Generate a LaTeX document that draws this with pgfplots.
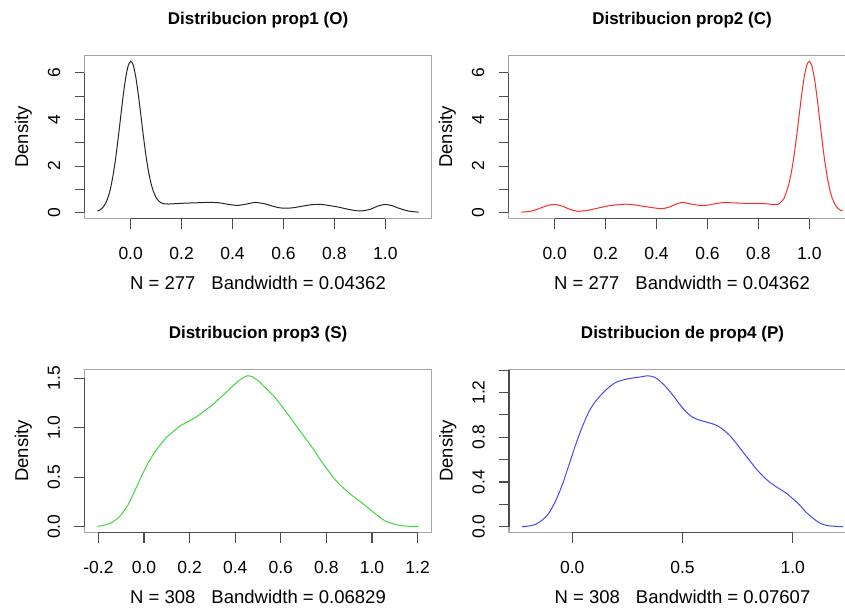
\documentclass[border=0pt]{standalone}
\usepackage{pgfplots}
\pgfplotsset{compat=1.18}
\usepackage{fontspec}
\setmainfont{Liberation Sans}
\newcommand\ticklab{\fontsize{17.5}{20}\selectfont}
\newcommand\labfont{\fontsize{18.5}{21}\selectfont}
\newcommand\titlefont{\bfseries\fontsize{17}{20}\selectfont}
\definecolor{rred}{RGB}{250,45,45}
\definecolor{rgreen}{RGB}{60,215,60}
\definecolor{rblue}{RGB}{70,70,250}
\pgfplotsset{
  rstyle/.style={
    scale only axis, width=347pt, height=163.5pt, anchor=south west,
    axis line style={draw=gray!70, line width=1.1pt},
    tick align=outside, xtick pos=bottom, ytick pos=left,
    major tick length=10pt,
    major tick style={black!70, line width=1.1pt},
    minor tick num=0, clip=false,
    xticklabel style={font=\ticklab, anchor=base, yshift=-31.3pt},
    yticklabel style={font=\ticklab, xshift=-14.5pt, rotate=90, anchor=base},
    title style={at={(axis description cs:0.5,1.152)}, anchor=base, yshift=0pt, font=\titlefont},
    xlabel style={at={(axis description cs:0.5,-0.4318)}, anchor=base, font=\labfont},
    ylabel style={at={(axis description cs:-0.1628,0.5)}, anchor=base, font=\labfont},
    ylabel={Density},
    every axis plot/.append style={line width=1pt, smooth, tension=0.4},
  }
}
\begin{document}
\begin{tikzpicture}
\useasboundingbox (0,0) rectangle (845pt,612pt);
\clip (0,0) rectangle (845pt,612pt);
% Panel 1
\begin{axis}[rstyle, at={(84.5pt,393.3pt)},
  xmin=-0.1813, xmax=1.1813, ymin=-0.26, ymax=6.76,
  xtick={0,0.2,0.4,0.6,0.8,1.0}, xticklabels={0.0,0.2,0.4,0.6,0.8,1.0},
  ytick={0,1,2,3,4,5,6}, yticklabels={0,,2,,4,,6},
  title={Distribucion prop1 (O)},
  xlabel={N = 277\hspace{16pt}Bandwidth = 0.04362}]
\addplot[black!85] coordinates {
(-0.1308,0.07) (-0.12,0.12) (-0.11,0.21) (-0.10,0.37) (-0.09,0.62) (-0.08,1.00)
(-0.07,1.55) (-0.06,2.25) (-0.05,3.11) (-0.04,4.04) (-0.03,4.97) (-0.02,5.76)
(-0.01,6.30) (0.00,6.50) (0.01,6.34) (0.02,5.83) (0.03,5.07) (0.04,4.18)
(0.05,3.28) (0.06,2.45) (0.07,1.77) (0.08,1.25) (0.09,0.89) (0.10,0.65)
(0.11,0.50) (0.12,0.42) (0.13,0.38) (0.15,0.37) (0.20,0.40) (0.25,0.42)
(0.31,0.44) (0.35,0.42) (0.38,0.36) (0.42,0.31) (0.46,0.38) (0.49,0.44)
(0.53,0.37) (0.56,0.27) (0.59,0.20) (0.63,0.20) (0.67,0.27) (0.71,0.34)
(0.75,0.35) (0.81,0.25) (0.86,0.13) (0.90,0.07) (0.94,0.14) (0.97,0.28)
(1.00,0.35) (1.03,0.29) (1.05,0.20) (1.09,0.07) (1.1308,0.02)};
\draw[black!70, line width=1.1pt] (axis cs:0,-0.26) -- (axis cs:1,-0.26);
\draw[black!70, line width=1.1pt] (axis cs:-0.1813,0) -- (axis cs:-0.1813,6);
\end{axis}
% Panel 2
\begin{axis}[rstyle, at={(508.5pt,393.3pt)},
  xmin=-0.1813, xmax=1.1813, ymin=-0.26, ymax=6.76,
  xtick={0,0.2,0.4,0.6,0.8,1.0}, xticklabels={0.0,0.2,0.4,0.6,0.8,1.0},
  ytick={0,1,2,3,4,5,6}, yticklabels={0,,2,,4,,6},
  title={Distribucion prop2 (C)},
  xlabel={N = 277\hspace{16pt}Bandwidth = 0.04362}]
\addplot[rred] coordinates {
(-0.1308,0.02) (-0.10,0.05) (-0.08,0.10) (-0.05,0.22) (-0.02,0.33) (0.00,0.35)
(0.03,0.28) (0.06,0.14) (0.09,0.06) (0.12,0.08) (0.16,0.17) (0.21,0.29)
(0.27,0.36) (0.30,0.35) (0.34,0.29) (0.38,0.22) (0.42,0.17) (0.45,0.24)
(0.48,0.38) (0.50,0.44) (0.53,0.38) (0.57,0.31) (0.60,0.32) (0.63,0.38)
(0.66,0.43) (0.70,0.42) (0.75,0.40) (0.80,0.40) (0.84,0.37) (0.86,0.34)
(0.87,0.34) (0.88,0.38) (0.89,0.47) (0.90,0.60) (0.91,0.89) (0.92,1.25)
(0.93,1.77) (0.94,2.45) (0.95,3.28) (0.96,4.18) (0.97,5.07) (0.98,5.83)
(0.99,6.34) (1.00,6.50) (1.01,6.30) (1.02,5.76) (1.03,4.97) (1.04,4.04)
(1.05,3.11) (1.06,2.25) (1.07,1.55) (1.08,1.00) (1.09,0.62) (1.10,0.37)
(1.11,0.21) (1.12,0.12) (1.1308,0.07)};
\draw[black!70, line width=1.1pt] (axis cs:0,-0.26) -- (axis cs:1,-0.26);
\draw[black!70, line width=1.1pt] (axis cs:-0.1813,0) -- (axis cs:-0.1813,6);
\end{axis}
% Panel 3
\begin{axis}[rstyle, at={(84.5pt,79.3pt)},
  xmin=-0.261, xmax=1.261, ymin=-0.0612, ymax=1.5912,
  xtick={-0.2,0,0.2,0.4,0.6,0.8,1.0,1.2}, xticklabels={-0.2,0.0,0.2,0.4,0.6,0.8,1.0,1.2},
  ytick={0,0.5,1.0,1.5}, yticklabels={0.0,0.5,1.0,1.5},
  title={Distribucion prop3 (S)},
  xlabel={N = 308\hspace{16pt}Bandwidth = 0.06829}]
\addplot[rgreen] coordinates {
(-0.205,0.003) (-0.18,0.012) (-0.146,0.037) (-0.12,0.075) (-0.10,0.12)
(-0.07,0.22) (-0.043,0.35) (-0.015,0.49) (0.015,0.63) (0.045,0.745)
(0.074,0.835) (0.10,0.905) (0.133,0.97) (0.16,1.02) (0.191,1.06) (0.23,1.11)
(0.265,1.17) (0.30,1.23) (0.338,1.31) (0.375,1.39) (0.411,1.466) (0.435,1.505)
(0.455,1.525) (0.475,1.515) (0.50,1.476) (0.535,1.40) (0.573,1.31) (0.61,1.20)
(0.646,1.09) (0.68,0.98) (0.719,0.86) (0.75,0.76) (0.778,0.66) (0.81,0.56)
(0.836,0.48) (0.87,0.40) (0.91,0.32) (0.95,0.25) (0.983,0.19) (1.02,0.12)
(1.056,0.06) (1.09,0.03) (1.13,0.01) (1.17,0.003) (1.205,0.001)};
\draw[black!70, line width=1.1pt] (axis cs:-0.2,-0.0612) -- (axis cs:1.2,-0.0612);
\draw[black!70, line width=1.1pt] (axis cs:-0.261,0) -- (axis cs:-0.261,1.5);
\end{axis}
% Panel 4
\begin{axis}[rstyle, at={(509pt,79.3pt)},
  xmin=-0.2865, xmax=1.2865, ymin=-0.054, ymax=1.409,
  xtick={0,0.5,1.0}, xticklabels={0.0,0.5,1.0},
  ytick={0,0.2,0.4,0.6,0.8,1.0,1.2,1.4}, yticklabels={0.0,,0.4,,0.8,,1.2,},
  title={Distribucion de prop4 (P)},
  xlabel={N = 308\hspace{16pt}Bandwidth = 0.07607}]
\addplot[rblue] coordinates {
(-0.228,0.0) (-0.20,0.005) (-0.167,0.02) (-0.135,0.06) (-0.106,0.12)
(-0.075,0.23) (-0.045,0.375) (-0.015,0.55) (0.015,0.73) (0.045,0.89)
(0.076,1.03) (0.105,1.12) (0.136,1.19) (0.165,1.245) (0.197,1.29)
(0.235,1.315) (0.273,1.33) (0.31,1.34) (0.341,1.35) (0.37,1.34) (0.394,1.31)
(0.425,1.25) (0.455,1.18) (0.485,1.10) (0.515,1.03) (0.545,0.98) (0.575,0.955)
(0.61,0.935) (0.651,0.91) (0.68,0.875) (0.712,0.82) (0.742,0.75) (0.773,0.67)
(0.803,0.595) (0.833,0.52) (0.863,0.455) (0.894,0.40) (0.93,0.35) (0.97,0.30)
(1.00,0.25) (1.03,0.196) (1.06,0.13) (1.09,0.078) (1.12,0.035) (1.151,0.012)
(1.19,0.003) (1.228,0.0)};
\draw[black!70, line width=1.1pt] (axis cs:0,-0.054) -- (axis cs:1,-0.054);
\draw[black!70, line width=1.1pt] (axis cs:-0.2865,0) -- (axis cs:-0.2865,1.4);
\end{axis}
\end{tikzpicture}
\end{document}
